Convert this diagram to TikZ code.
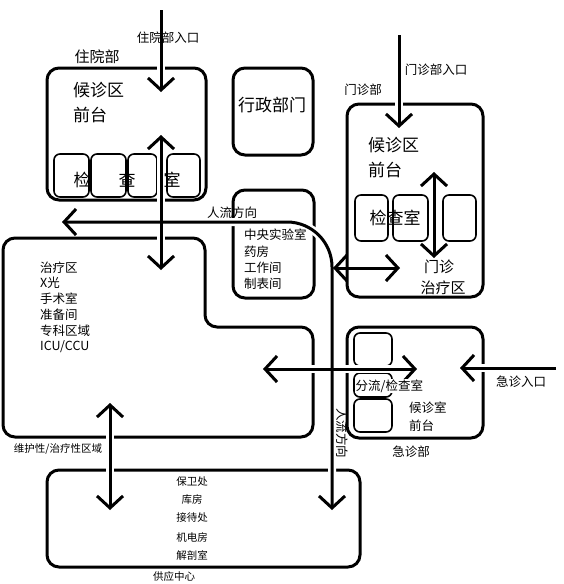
\documentclass[tikz,border=0pt]{standalone}
\usepackage{fontspec}
\newfontfamily\cjk{Noto Sans CJK SC}
\usetikzlibrary{arrows.meta}
\newcommand\fsz[1]{\fontsize{#1}{#1}\selectfont}
\begin{document}
\begin{tikzpicture}[x=1pt,y=-1pt,
  box/.style={line width=3pt, rounded corners=12pt},
  room/.style={line width=1.6pt, rounded corners=6pt},
  tip/.tip={Straight Barb[length=12pt,width=26pt,line width=3pt]},
  both/.style={line width=3pt, tip-tip},
  oneway/.style={line width=3pt, -tip},
  halo/.style={white, line width=8pt},
  big/.style={font=\cjk\fsz{17}, inner sep=0pt},
  mid/.style={font=\cjk\fsz{15}, inner sep=0pt},
  sml/.style={font=\cjk\fsz{12.5}, inner sep=0pt},
  tiny/.style={font=\cjk\fsz{10.5}, inner sep=0pt}]
\useasboundingbox (0,0) rectangle (564,584);

% boxes
\draw[box] (47,68) rectangle (206,200);
\draw[box] (233,68) rectangle (313,155);
\draw[box] (233,190) rectangle (314,298);
\draw[box] (347,104) rectangle (483,297);
\draw[box] (3,238) -- (205,238) -- (205,327) -- (313,327) -- (313,437) -- (3,437) -- cycle;
\draw[box] (347,327) rectangle (483,438);
\draw[box] (47,470) rectangle (360,567);

% small rooms
\draw[room] (54,154) rectangle (89,197);
\draw[room] (91,154) rectangle (126,197);
\draw[room] (128,154) rectangle (157,197);
\draw[room] (167,154) rectangle (200,197);
\draw[room] (355,195) rectangle (388,241);
\draw[room] (393,195) rectangle (428,241);
\draw[room] (443,195) rectangle (476,241);
\draw[room] (354,333) rectangle (392,366);
\draw[room] (354,373) rectangle (392,397);
\draw[room] (354,399) rectangle (392,432);

% coordinates for connectors
\coordinate (inIn) at (161,10);
\coordinate (inInEnd) at (161,92);
\coordinate (inUp) at (161,135);
\coordinate (inDown) at (161,270);
\coordinate (flowL) at (62,222);
\coordinate (flowC) at (332,222);
\coordinate (flowD) at (332,510);
\coordinate (opL) at (333,268);
\coordinate (opR) at (400,268);
\coordinate (opIn) at (399,35);
\coordinate (opInEnd) at (399,128);
\coordinate (opUp) at (434,172);
\coordinate (opDown) at (434,258);
\coordinate (emL) at (263,369);
\coordinate (emR) at (417,369);
\coordinate (emIn) at (556,368);
\coordinate (emInEnd) at (460,368);
\coordinate (trUp) at (110,403);
\coordinate (trDown) at (110,510);

% white halos where connectors cross walls
\draw[halo] (inIn) -- (inInEnd);
\draw[halo] (inUp) -- (inDown);
\draw[halo, rounded corners=45pt] (flowL) -- (flowC) -- (flowD);
\draw[halo] (opIn) -- (opInEnd);
\draw[halo] (emL) -- (emR);
\draw[halo] (emIn) -- (emInEnd);
\draw[halo] (trUp) -- (trDown);

% connectors
\draw[oneway] (inIn) -- (inInEnd);
\draw[both] (inUp) -- (inDown);
\draw[both, rounded corners=45pt] (flowL) -- (flowC) -- (flowD);
\draw[both] (opL) -- (opR);
\draw[oneway] (opIn) -- (opInEnd);
\draw[both] (opUp) -- (opDown);
\draw[both] (emL) -- (emR);
\draw[oneway] (emIn) -- (emInEnd);
\draw[both] (trUp) -- (trDown);

% inpatient
\node[mid] (tZy) at (97,57) {住院部};
\node[sml] (tZyIn) at (168,38) {住院部入口};
\node[big, anchor=west] (tHz1) at (73,90) {候诊区};
\node[big, anchor=west] (tQt1) at (73,115) {前台};
\node[big] (tJ1) at (82,180) {检};
\node[big] (tC1) at (127,180) {查};
\node[big] (tS1) at (172,180) {室};

% admin
\node[big] (tXz) at (272,105) {行政部门};

% outpatient
\node[sml] (tMz) at (363,90) {门诊部};
\node[sml] (tMzIn) at (436,70) {门诊部入口};
\node[big, anchor=west] (tHz2) at (368,145) {候诊区};
\node[big, anchor=west] (tQt2) at (368,170) {前台};
\node[big] (tJcs2) at (395,218) {检查室};
\node[mid] (tMz2) at (439,267) {门诊};
\node[mid] (tZl2) at (443,288) {治疗区};

% flow labels
\node[sml] (tFlow) at (232,213) {人流方向};
\node[sml, rotate=-90] (tFlow2) at (342,433) {人流方向};

% lab
\node[sml, anchor=west] (tL1) at (244,235) {中央实验室};
\node[sml, anchor=west] (tL2) at (244,252) {药房};
\node[sml, anchor=west] (tL3) at (244,268) {工作间};
\node[sml, anchor=west] (tL4) at (244,284) {制表间};

% treatment
\node[sml, anchor=west] (tT1) at (40,268) {治疗区};
\node[sml, anchor=west] (tT2) at (40,283) {X光};
\node[sml, anchor=west] (tT3) at (40,299) {手术室};
\node[sml, anchor=west] (tT4) at (40,315) {准备间};
\node[sml, anchor=west] (tT5) at (40,331) {专科区域};
\node[sml, anchor=west] (tT6) at (40,347) {ICU/CCU};
\node[tiny] (tWh) at (58,449) {维护性/治疗性区域};

% emergency
\node[sml, anchor=west, fill=white, inner sep=0.5pt] (tFl) at (355,386) {分流/检查室};
\node[sml, anchor=west] (tHzs) at (409,408) {候诊室};
\node[sml, anchor=west] (tQt3) at (409,426) {前台};
\node[sml] (tJz) at (411,452) {急诊部};
\node[sml] (tJzIn) at (521,382) {急诊入口};

% supply
\node[tiny] (tS1a) at (192,482) {保卫处};
\node[tiny] (tS2a) at (192,500) {库房};
\node[tiny] (tS3a) at (192,518) {接待处};
\node[tiny] (tS4a) at (192,537) {机电房};
\node[tiny] (tS5a) at (192,555) {解剖室};
\node[tiny] (tGy) at (174,576) {供应中心};
\end{tikzpicture}
\end{document}
